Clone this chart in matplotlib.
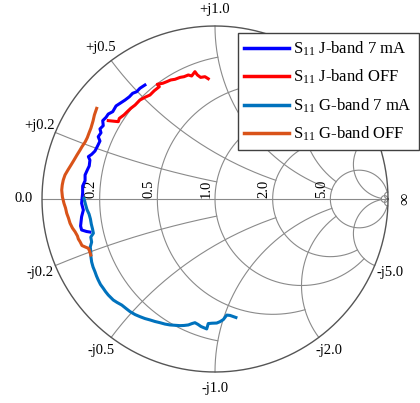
import numpy as np
import matplotlib

matplotlib.use("Agg")

import matplotlib.pyplot as plt

j_on_re = [-0.405, -0.434, -0.453, -0.476, -0.495, -0.520, -0.549, -0.572, -0.591, -0.617,
           -0.630, -0.649, -0.646, -0.665, -0.659, -0.675, -0.665, -0.678, -0.694, -0.713,
           -0.732, -0.723, -0.727, -0.738, -0.751, -0.751, -0.765, -0.765, -0.771, -0.761,
           -0.771, -0.777, -0.771, -0.742, -0.723]
j_on_im = [0.659, 0.640, 0.620, 0.611, 0.591, 0.572, 0.553, 0.538, 0.505, 0.491,
           0.472, 0.453, 0.424, 0.405, 0.383, 0.360, 0.335, 0.308, 0.277, 0.258,
           0.245, 0.225, 0.191, 0.168, 0.139, 0.106, 0.075, 0.036, -0.025, -0.064,
           -0.102, -0.156, -0.179, -0.188, -0.191]

j_off_re = [-0.617, -0.559, -0.553, -0.526, -0.507, -0.487, -0.462, -0.434, -0.405, -0.376,
            -0.351, -0.322, -0.334, -0.302, -0.279, -0.256, -0.231, -0.202, -0.179, -0.154,
            -0.135, -0.116, -0.102, -0.083, -0.058, -0.039]
j_off_im = [0.453, 0.447, 0.466, 0.486, 0.505, 0.524, 0.543, 0.572, 0.588, 0.601,
            0.626, 0.649, 0.663, 0.669, 0.678, 0.688, 0.692, 0.703, 0.707, 0.717,
            0.711, 0.736, 0.717, 0.703, 0.707, 0.695]

g_on_re = [-0.757, -0.749, -0.740, -0.728, -0.720, -0.715, -0.708, -0.703, -0.718, -0.713,
           -0.721, -0.718, -0.717, -0.713, -0.705, -0.694, -0.685, -0.675, -0.662, -0.646,
           -0.633, -0.617, -0.588, -0.566, -0.539, -0.514, -0.491, -0.462, -0.434, -0.405,
           -0.376, -0.347, -0.318, -0.289, -0.260, -0.231, -0.202, -0.179, -0.154, -0.133,
           -0.116, -0.098, -0.081, -0.048, -0.043, -0.039, -0.017, 0.010, 0.029, 0.048,
           0.068, 0.087, 0.104, 0.121]
g_on_im = [0.003, -0.029, -0.061, -0.087, -0.116, -0.145, -0.173, -0.198, -0.220, -0.249,
           -0.277, -0.306, -0.335, -0.364, -0.393, -0.420, -0.445, -0.468, -0.494, -0.516,
           -0.535, -0.555, -0.584, -0.598, -0.613, -0.633, -0.651, -0.668, -0.680, -0.691,
           -0.699, -0.708, -0.715, -0.723, -0.728, -0.730, -0.732, -0.731, -0.728, -0.720,
           -0.715, -0.725, -0.737, -0.751, -0.734, -0.720, -0.718, -0.717, -0.709, -0.697,
           -0.671, -0.673, -0.679, -0.685]

g_off_re = [-0.684, -0.697, -0.705, -0.717, -0.728, -0.738, -0.751, -0.769, -0.780, -0.798,
            -0.815, -0.832, -0.850, -0.867, -0.877, -0.883, -0.886, -0.882, -0.873, -0.864,
            -0.857, -0.847, -0.838, -0.824, -0.809, -0.795, -0.790, -0.780, -0.769, -0.751,
            -0.732, -0.725, -0.718]
g_off_im = [0.524, 0.486, 0.451, 0.410, 0.382, 0.355, 0.329, 0.302, 0.283, 0.254,
            0.225, 0.197, 0.168, 0.139, 0.110, 0.081, 0.052, 0.012, -0.025, -0.052,
            -0.083, -0.110, -0.140, -0.168, -0.189, -0.214, -0.231, -0.247, -0.269, -0.277,
            -0.285, -0.301, -0.324]

labels = ["J-band 7 mA", "J-band OFF", "G-band 7 mA", "G-band OFF"]
colors = ["#0000ff", "#ff0000", "#0072bd", "#d95319"]

# smith grid: circle value and where it stops
grid_values = [0.2, 0.5, 1.0, 2.0, 5.0, 50.0]
grid_limits = [1.0, 2.0, 5.0, 5.0, 50.0, np.inf]
r_labels = [0.2, 0.5, 1.0, 2.0, 5.0]
# +j2.0 / +j5.0 sit under the legend in the original
x_labels = ["+j0.2", "+j0.5", "+j1.0", "-j0.2", "-j0.5", "-j1.0", "-j2.0", "-j5.0"]


def to_gamma(z):
    return (z - 1) / (z + 1)


def main() -> None:
    plt.rcParams.update(
        {
            "font.family": "Liberation Serif",
            "mathtext.fontset": "custom",
            "mathtext.rm": "Liberation Serif",
            "mathtext.it": "Liberation Serif:italic",
        }
    )

    fig = plt.figure(figsize=(4.2, 4.03), dpi=100)
    ax = fig.add_axes([0, 0, 1, 1])
    ax.set_xlim(-215 / 173, 205 / 173)
    ax.set_ylim(-204 / 173, 199 / 173)
    ax.set_aspect("equal")
    ax.axis("off")

    grid_kw = dict(color="#8a8a8a", lw=0.8, zorder=1)
    for val, lim in zip(grid_values, grid_limits):
        t = np.linspace(-np.arctan(lim), np.arctan(lim), 600)
        g = to_gamma(val + 1j * np.tan(t))
        ax.plot(g.real, g.imag, **grid_kw)
        t = np.linspace(0, np.arctan(lim), 600)
        for sign in (1, -1):
            g = to_gamma(np.tan(t) + 1j * sign * val)
            ax.plot(g.real, g.imag, **grid_kw)
    ax.plot([-1, 1], [0, 0], **grid_kw)
    th = np.linspace(0, 2 * np.pi, 800)
    ax.plot(np.cos(th), np.sin(th), color="#555555", lw=1.0, zorder=1)

    fs = 10.5
    for val in r_labels:
        x0 = (val - 1) / (val + 1)
        ax.text(x0 - 2 / 173, 1.5 / 173, f"{val:.1f}", rotation=90,
                ha="right", va="bottom", fontsize=fs)
    for lab in x_labels:
        xval = float(lab[2:]) * (1 if lab[0] == "+" else -1)
        g = to_gamma(1j * xval)
        g = g / abs(g) * 1.098
        ax.text(g.real, g.imag, lab, ha="center", va="center", fontsize=fs)
    ax.text(-1.104, 0, "0.0", ha="center", va="center", fontsize=fs)
    ax.text(1.098, 0, "\u221e", ha="center", va="center", rotation=90, fontsize=fs + 2)

    series = [(j_on_re, j_on_im), (j_off_re, j_off_im), (g_on_re, g_on_im), (g_off_re, g_off_im)]
    for (re, im), lab, col in zip(series, labels, colors):
        ax.plot(re, im, color=col, lw=2.2, label=r"$\mathrm{S}_{11}$ " + lab, zorder=3,
                solid_joinstyle="round")

    leg = ax.legend(
        loc="upper right",
        bbox_to_anchor=(419 / 420, 1 - 33 / 403),
        bbox_transform=fig.transFigure,
        borderaxespad=0,
        fontsize=12,
        frameon=True,
        fancybox=False,
        handlelength=2.7,
        handletextpad=0.25,
        borderpad=0.4,
        labelspacing=0.6,
    )
    leg.get_frame().set_edgecolor("#404040")
    leg.get_frame().set_linewidth(1.0)
    leg.get_frame().set_alpha(1)
    for line in leg.get_lines():
        line.set_linewidth(2.5)

    fig.savefig("out.png", dpi=100)
    plt.close(fig)


if __name__ == "__main__":
    main()
